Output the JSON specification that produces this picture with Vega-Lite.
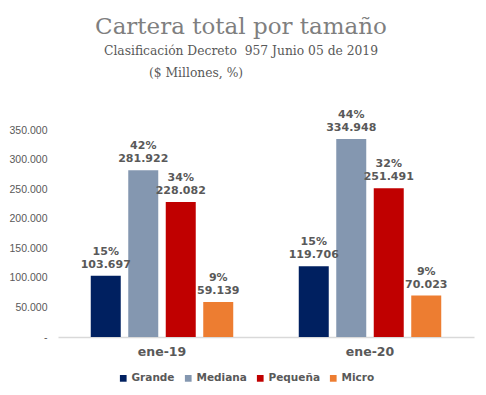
{
  "$schema": "https://vega.github.io/schema/vega-lite/v6.json",
  "autosize": {"type": "none"},
  "width": 416,
  "height": 207,
  "padding": {"left": 58, "top": 130, "right": 12, "bottom": 58},
  "background": "white",
  "title": {
    "text": "Cartera total por tamaño",
    "subtitle": ["Clasificación Decreto\u00a0 957 Junio 05 de 2019", "($ Millones, %)\u00a0\u00a0\u00a0\u00a0\u00a0\u00a0\u00a0\u00a0\u00a0\u00a0\u00a0\u00a0\u00a0\u00a0\u00a0\u00a0\u00a0\u00a0\u00a0\u00a0\u00a0\u00a0\u00a0\u200b"],
    "anchor": "middle",
    "dx": -25,
    "offset": 30,
    "font": "DejaVu Serif",
    "fontSize": 23,
    "fontWeight": "normal",
    "color": "#7F7F7F",
    "subtitleFont": "DejaVu Serif",
    "subtitleFontSize": 12.3,
    "subtitleColor": "#595959",
    "subtitleLineHeight": 22,
    "subtitlePadding": 6
  },
  "data": {
    "values": [
      {"fecha": "ene-19", "tam": "Grande", "valor": 103697, "pct": 0.15},
      {"fecha": "ene-19", "tam": "Mediana", "valor": 281922, "pct": 0.42},
      {"fecha": "ene-19", "tam": "Pequeña", "valor": 228082, "pct": 0.34},
      {"fecha": "ene-19", "tam": "Micro", "valor": 59139, "pct": 0.09},
      {"fecha": "ene-20", "tam": "Grande", "valor": 119706, "pct": 0.15},
      {"fecha": "ene-20", "tam": "Mediana", "valor": 334948, "pct": 0.44},
      {"fecha": "ene-20", "tam": "Pequeña", "valor": 251491, "pct": 0.32},
      {"fecha": "ene-20", "tam": "Micro", "valor": 70023, "pct": 0.09}
    ]
  },
  "encoding": {
    "x": {
      "field": "fecha", "type": "nominal",
      "scale": {"paddingInner": 0.315, "paddingOuter": 0.1575},
      "axis": {
        "title": null, "labelAngle": 0, "ticks": false,
        "domainColor": "#D9D9D9", "domainWidth": 1.5,
        "labelFont": "DejaVu Sans", "labelFontWeight": "bold", "labelFontSize": 12.5,
        "labelColor": "#595959", "labelPadding": 8
      }
    },
    "xOffset": {
      "field": "tam", "type": "nominal",
      "sort": ["Grande", "Mediana", "Pequeña", "Micro"],
      "scale": {"paddingInner": 0.2, "paddingOuter": 0}
    },
    "y": {
      "field": "valor", "type": "quantitative",
      "scale": {"domain": [0, 350000], "nice": false},
      "axis": {
        "title": null, "grid": false, "domain": false, "ticks": false,
        "values": [0, 50000, 100000, 150000, 200000, 250000, 300000, 350000],
        "format": ",.0f",
        "labelExpr": "datum.value === 0 ? '-' : datum.label",
        "labelFont": "Liberation Sans", "labelFontSize": 10.5, "labelColor": "#595959",
        "labelPadding": 11
      }
    }
  },
  "layer": [
    {
      "mark": {"type": "bar"},
      "encoding": {
        "color": {
          "field": "tam", "type": "nominal",
          "sort": ["Grande", "Mediana", "Pequeña", "Micro"],
          "scale": {"domain": ["Grande", "Mediana", "Pequeña", "Micro"], "range": ["#002060", "#8497B0", "#C00000", "#ED7D31"]},
          "legend": {
            "title": null, "orient": "none", "direction": "horizontal", "columns": 4,
            "legendX": 60, "legendY": 243,
            "symbolType": "square", "symbolSize": 45, "symbolStrokeWidth": 0,
            "labelFont": "DejaVu Sans", "labelFontWeight": "bold", "labelFontSize": 10.5,
            "labelColor": "#595959", "labelOffset": 3, "columnPadding": 8
          }
        }
      }
    },
    {
      "mark": {"type": "text", "baseline": "alphabetic", "dy": -8, "font": "DejaVu Sans", "fontWeight": "bold", "fontSize": 11, "color": "#595959"},
      "encoding": {"text": {"field": "valor", "type": "quantitative", "format": ",.0f"}}
    },
    {
      "mark": {"type": "text", "baseline": "alphabetic", "dy": -21, "font": "DejaVu Sans", "fontWeight": "bold", "fontSize": 11, "color": "#595959"},
      "encoding": {"text": {"field": "pct", "type": "quantitative", "format": ".0%"}}
    }
  ],
  "config": {
    "view": {"stroke": null},
    "locale": {"number": {"decimal": ",", "thousands": ".", "grouping": [3], "currency": ["$", ""]}}
  }
}
